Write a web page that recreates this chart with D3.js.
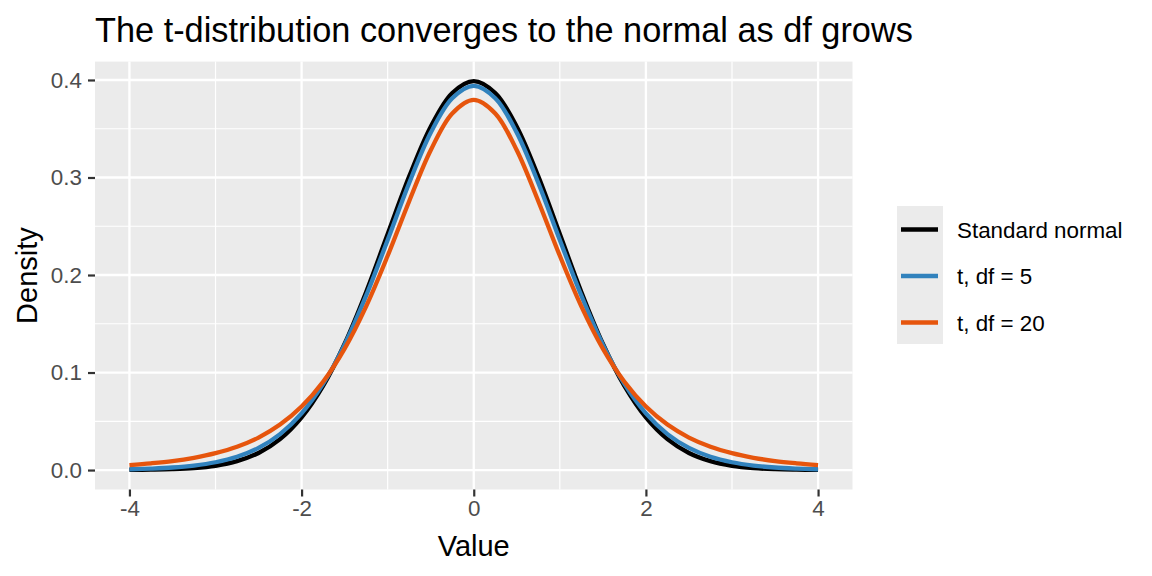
<!DOCTYPE html>
<html>
<head>
<meta charset="utf-8">
<script src="https://cdn.jsdelivr.net/npm/d3@7"></script>
<style>
  body { margin: 0; background: #fff; }
  text { font-family: "Liberation Sans", Arial, sans-serif; }
</style>
</head>
<body>
<div id="chart"></div>
<script>
// values, x from -4 to 4 in steps of 0.25
const xValues = [-4, -3.75, -3.5, -3.25, -3, -2.75, -2.5, -2.25, -2, -1.75, -1.5, -1.25, -1, -0.75, -0.5, -0.25,
  0, 0.25, 0.5, 0.75, 1, 1.25, 1.5, 1.75, 2, 2.25, 2.5, 2.75, 3, 3.25, 3.5, 3.75, 4];

const normalDensity = [0.0001, 0.0004, 0.0009, 0.0020, 0.0044, 0.0091, 0.0175, 0.0317, 0.0540, 0.0863, 0.1295, 0.1826, 0.2420, 0.3011, 0.3521, 0.3867,
  0.3989, 0.3867, 0.3521, 0.3011, 0.2420, 0.1826, 0.1295, 0.0863, 0.0540, 0.0317, 0.0175, 0.0091, 0.0044, 0.0020, 0.0009, 0.0004, 0.0001];

const blueDensity = [0.0008, 0.0015, 0.0026, 0.0046, 0.0080, 0.0136, 0.0227, 0.0369, 0.0581, 0.0883, 0.1286, 0.1788, 0.2360, 0.2944, 0.3458, 0.3813,
  0.3940, 0.3813, 0.3458, 0.2944, 0.2360, 0.1788, 0.1286, 0.0883, 0.0581, 0.0369, 0.0227, 0.0136, 0.0080, 0.0046, 0.0026, 0.0015, 0.0008];

const orangeDensity = [0.0051, 0.0069, 0.0092, 0.0126, 0.0173, 0.0239, 0.0333, 0.0466, 0.0651, 0.0905, 0.1245, 0.1679, 0.2197, 0.2757, 0.3279, 0.3657,
  0.3796, 0.3657, 0.3279, 0.2757, 0.2197, 0.1679, 0.1245, 0.0905, 0.0651, 0.0466, 0.0333, 0.0239, 0.0173, 0.0126, 0.0092, 0.0069, 0.0051];

const seriesNames = ["Standard normal", "t, df = 5", "t, df = 20"];
const seriesColors = ["#000000", "#3182BD", "#E6550D"];
const seriesValues = [normalDensity, blueDensity, orangeDensity];

const xTicks = [-4, -2, 0, 2, 4];
const xMinor = [-3, -1, 1, 3];
const yTicks = [0, 0.1, 0.2, 0.3, 0.4];
const yMinor = [0.05, 0.15, 0.25, 0.35];

const W = 1152, H = 576;
const panel = {left: 95, right: 852.5, top: 61.6, bottom: 489.5};

const svg = d3.select("#chart").append("svg")
  .attr("width", W).attr("height", H);

// ggplot-like 5% expansion of the data range
const xDom = [-4, 4], yDom = [0, d3.max(normalDensity)];
const xPad = (xDom[1] - xDom[0]) * 0.05, yPad = (yDom[1] - yDom[0]) * 0.05;

const x = d3.scaleLinear()
  .domain([xDom[0] - xPad, xDom[1] + xPad])
  .range([panel.left, panel.right]);
const y = d3.scaleLinear()
  .domain([yDom[0] - yPad, yDom[1] + yPad])
  .range([panel.bottom, panel.top]);

svg.append("rect")
  .attr("x", panel.left).attr("y", panel.top)
  .attr("width", panel.right - panel.left).attr("height", panel.bottom - panel.top)
  .attr("fill", "#EBEBEB");

// grid
svg.selectAll(".xminor").data(xMinor).join("line")
  .attr("x1", d => x(d)).attr("x2", d => x(d))
  .attr("y1", panel.top).attr("y2", panel.bottom)
  .attr("stroke", "#fff").attr("stroke-width", 1.2);
svg.selectAll(".yminor").data(yMinor).join("line")
  .attr("x1", panel.left).attr("x2", panel.right)
  .attr("y1", d => y(d)).attr("y2", d => y(d))
  .attr("stroke", "#fff").attr("stroke-width", 1.2);
svg.selectAll(".xmajor").data(xTicks).join("line")
  .attr("x1", d => x(d)).attr("x2", d => x(d))
  .attr("y1", panel.top).attr("y2", panel.bottom)
  .attr("stroke", "#fff").attr("stroke-width", 2.3);
svg.selectAll(".ymajor").data(yTicks).join("line")
  .attr("x1", panel.left).attr("x2", panel.right)
  .attr("y1", d => y(d)).attr("y2", d => y(d))
  .attr("stroke", "#fff").attr("stroke-width", 2.3);

// curves
const line = d3.line()
  .x((d, i) => x(xValues[i]))
  .y(d => y(d))
  .curve(d3.curveCatmullRom);

svg.selectAll(".curve").data(seriesValues).join("path")
  .attr("d", d => line(d))
  .attr("fill", "none")
  .attr("stroke", (d, i) => seriesColors[i])
  .attr("stroke-width", 4.3)
  .attr("stroke-linejoin", "round");

// axes
const xAxis = svg.append("g")
  .attr("transform", `translate(0,${panel.bottom})`)
  .call(d3.axisBottom(x).tickValues(xTicks).tickSize(7).tickPadding(4).tickFormat(d3.format("d")));
const yAxis = svg.append("g")
  .attr("transform", `translate(${panel.left},0)`)
  .call(d3.axisLeft(y).tickValues(yTicks).tickSize(7).tickPadding(6).tickFormat(d3.format(".1f")));

[xAxis, yAxis].forEach(g => {
  g.select(".domain").remove();
  g.selectAll(".tick line").attr("stroke", "#333333").attr("stroke-width", 2.2);
  g.selectAll(".tick text")
    .attr("fill", "#4D4D4D")
    .style("font-size", "22.4px")
    .style("font-family", "'Liberation Sans', Arial, sans-serif");
});
xAxis.selectAll(".tick text").text(d => d < 0 ? "-" + Math.abs(d) : d);

// titles
svg.append("text")
  .attr("x", panel.left).attr("y", 42)
  .style("font-size", "34.3px")
  .attr("fill", "#000")
  .text("The t-distribution converges to the normal as df grows");

svg.append("text")
  .attr("x", (panel.left + panel.right) / 2).attr("y", 555.5)
  .attr("text-anchor", "middle")
  .style("font-size", "29px")
  .text("Value");

svg.append("text")
  .attr("transform", `translate(36.5,${(panel.top + panel.bottom) / 2}) rotate(-90)`)
  .attr("text-anchor", "middle")
  .style("font-size", "29px")
  .text("Density");

// legend
const legend = svg.append("g");
legend.append("rect")
  .attr("x", 897).attr("y", 206)
  .attr("width", 46).attr("height", 138)
  .attr("fill", "#EBEBEB");

const keyY = d3.scalePoint().domain(seriesNames).range([229.5, 322.5]);

legend.selectAll(".key").data(seriesNames).join("line")
  .attr("x1", 901).attr("x2", 938)
  .attr("y1", d => keyY(d)).attr("y2", d => keyY(d))
  .attr("stroke", (d, i) => seriesColors[i])
  .attr("stroke-width", 4.3);

legend.selectAll(".label").data(seriesNames).join("text")
  .attr("x", 957)
  .attr("y", d => keyY(d))
  .attr("dy", "0.36em")
  .style("font-size", "22.4px")
  .text(d => d);
</script>
</body>
</html>
